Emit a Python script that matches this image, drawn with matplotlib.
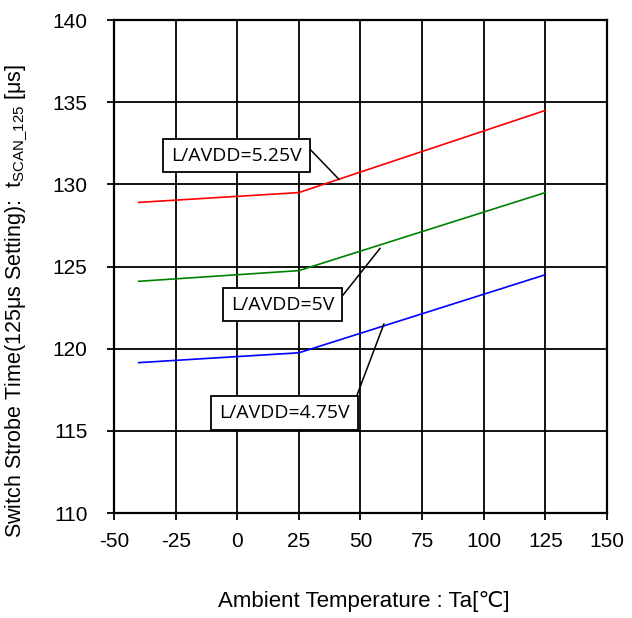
import matplotlib
matplotlib.use("Agg")
import matplotlib.pyplot as plt

plt.rcParams['font.family'] = ['Liberation Sans', 'DejaVu Sans']
plt.rcParams['mathtext.default'] = 'regular'

temps = [-40, 25, 125]
v525 = [128.9, 129.5, 134.5]
v500 = [124.1, 124.75, 129.5]
v475 = [119.15, 119.75, 124.5]

xticks = [-50, -25, 0, 25, 50, 75, 100, 125, 150]
xticklabels = ['-50', '-25', '0', '25', '50', '75', '100', '125', '150']
yticks = [110, 115, 120, 125, 130, 135, 140]

labels = ['L/AVDD=5.25V', 'L/AVDD=5V', 'L/AVDD=4.75V']
colors = ['#ff0000', '#008000', '#0000ff']
# annotation layout: box centre, leader start, leader end (data coords)
box_pos = [(-0.3, 131.75), (18.4, 122.68), (19.2, 116.08)]
lead_start = [(29.1, 132.2), (42.9, 123.26), (48.6, 117.18)]
lead_end = [(41.3, 130.3), (57.9, 126.1), (59.5, 121.5)]

fig = plt.figure(figsize=(6.32, 6.18), dpi=100)
ax = fig.add_axes([0.1804, 0.1699, 0.780, 0.7977])

for ys, c in zip([v525, v500, v475], colors):
    ax.plot(temps, ys, color=c, lw=1.2, zorder=3)

ax.set_xlim(-50, 150)
ax.set_ylim(110, 140)
ax.set_xticks(xticks)
ax.set_xticklabels(xticklabels)
ax.set_yticks(yticks)
ax.grid(True, color='black', lw=1.3)
ax.set_axisbelow(True)
for s in ax.spines.values():
    s.set_linewidth(1.6)
    s.set_color('black')
ax.tick_params(axis='both', direction='out', length=5, width=1.3, labelsize=15)
ax.tick_params(axis='x', pad=9)
ax.tick_params(axis='y', pad=14)

ax.set_xlabel('Ambient Temperature : Ta[\u2103]', fontsize=16)
ax.set_ylabel('Switch Strobe Time(125\u03bcs Setting):  t$_{SCAN\\_125}$ [\u03bcs]', fontsize=15.5)
ax.xaxis.set_label_coords(0.506, -0.158)
ax.yaxis.set_label_coords(-0.170, 0.43)

for lab, bp, ls, le in zip(labels, box_pos, lead_start, lead_end):
    ax.plot([ls[0], le[0]], [ls[1], le[1]], color='black', lw=1.1, zorder=4)
    ax.text(bp[0], bp[1], lab, ha='center', va='center',
            fontsize=14, family=['Open Sans', 'DejaVu Sans'],
            bbox=dict(boxstyle='square,pad=0.4', fc='white', ec='black', lw=1.3),
            zorder=5)

fig.savefig('out.png', dpi=100)
